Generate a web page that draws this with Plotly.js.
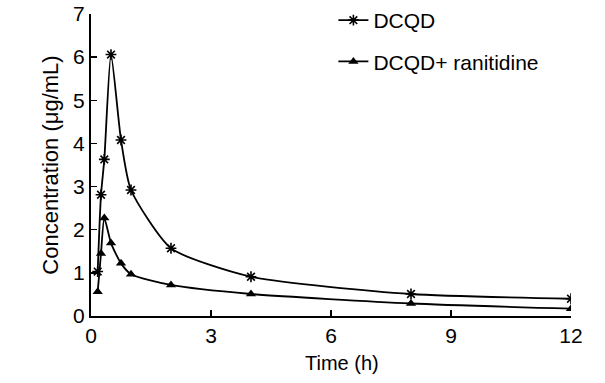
<!DOCTYPE html>
<html>
<head>
<meta charset="utf-8">
<script src="https://cdn.plot.ly/plotly-3.0.1.min.js"></script>
<style>html,body{margin:0;padding:0;background:#fff;}#chart{width:605px;height:383px;}</style>
</head>
<body>
<div id="chart"></div>
<script>
const timeH = [0.167, 0.25, 0.333, 0.5, 0.75, 1, 2, 4, 8, 12];
const dcqd = [1.03, 2.81, 3.63, 6.06, 4.08, 2.92, 1.57, 0.91, 0.51, 0.40];
const dcqdRanitidine = [0.56, 1.45, 2.27, 1.69, 1.22, 0.97, 0.72, 0.51, 0.29, 0.17];
const seriesNames = ['DCQD', 'DCQD+ ranitidine'];
const xTicks = [0, 3, 6, 9, 12];
const yTicks = [0, 1, 2, 3, 4, 5, 6, 7];

const font = 'Liberation Sans, Arial, sans-serif';
const traces = [
  {x: timeH, y: dcqd, name: seriesNames[0], type: 'scatter', mode: 'lines+markers',
   legendgroup: 'a',
   line: {color: '#000', width: 1.8, shape: 'spline', smoothing: 0.6},
   marker: {symbol: 'asterisk-open', size: 9, color: '#000', line: {color: '#000', width: 1.6}}},
  {x: timeH, y: dcqdRanitidine, name: seriesNames[1], type: 'scatter', mode: 'lines+markers',
   legendgroup: 'b',
   line: {color: '#000', width: 1.8, shape: 'spline', smoothing: 0.6},
   marker: {symbol: 'triangle-up', size: 9, color: '#000'}}
];
const layout = {
  width: 605, height: 383,
  margin: {l: 91, r: 34, t: 14, b: 67, autoexpand: false},
  paper_bgcolor: '#fff', plot_bgcolor: '#fff',
  font: {family: font, size: 20, color: '#000'},
  showlegend: true,
  legend: {x: 0.505, y: 1.0, yref: 'container', xanchor: 'left', yanchor: 'top', bgcolor: 'rgba(0,0,0,0)',
           font: {family: font, size: 21, color: '#000'}, tracegroupgap: 11, traceorder: 'grouped'},
  xaxis: {range: [0, 12], tickvals: xTicks, ticktext: xTicks.map(String),
          ticks: 'inside', ticklen: 6, tickwidth: 1.5, tickcolor: '#000',
          showline: true, linecolor: '#000', linewidth: 2, showgrid: false, zeroline: false,
          tickfont: {family: font, size: 21, color: '#000'}},
  yaxis: {range: [0, 7], tickvals: yTicks, ticktext: yTicks.map(String),
          ticks: 'inside', ticklen: 6, tickwidth: 1.5, tickcolor: '#000',
          showline: true, linecolor: '#000', linewidth: 2, showgrid: false, zeroline: false,
          tickfont: {family: font, size: 21, color: '#000'},
          title: {text: 'Concentration (μg/mL)', font: {family: font, size: 22, color: '#000'}, standoff: 8}},
  annotations: [{text: 'Time (h)', xref: 'paper', yref: 'paper', x: 0.523, y: 0, yshift: -47,
                 xanchor: 'center', yanchor: 'middle', showarrow: false,
                 font: {family: font, size: 20, color: '#000'}}]
};
Plotly.newPlot('chart', traces, layout, {displayModeBar: false, staticPlot: true});
</script>
</body>
</html>
